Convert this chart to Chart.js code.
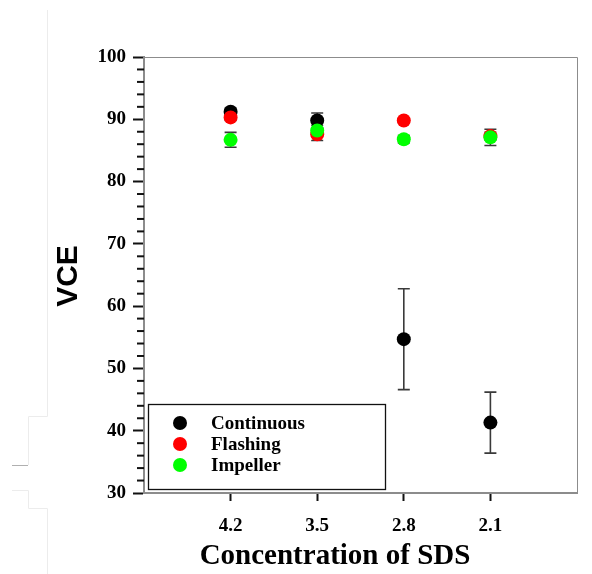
<!DOCTYPE html>
<html>
<head>
<meta charset="utf-8">
<script src="https://cdn.jsdelivr.net/npm/chart.js@4.4.1/dist/chart.umd.min.js"></script>
<style>
html,body{margin:0;padding:0;background:#fff;}
#wrap{width:592px;height:574px;position:relative;}
</style>
</head>
<body>
<div id="wrap"><canvas id="c" width="592" height="574"></canvas></div>
<script>
// ---- data ----
const categories = ['4.2', '3.5', '2.8', '2.1'];
const seriesNames = ['Continuous', 'Flashing', 'Impeller'];
const continuous = [91.2, 89.8, 54.7, 41.3];
const continuousErr = [0.6, 1.2, 8.1, 4.9];
const flashing = [90.3, 87.6, 89.8, 87.3];
const flashingErr = [0.5, 1.0, 0.3, 0.6];
const impeller = [86.7, 88.2, 86.8, 87.1];
const impellerErr = [1.2, 0.8, 0.6, 1.3];
const yTickLabels = [30, 40, 50, 60, 70, 80, 90, 100];

const colors = ['#000000', '#ff0000', '#00ff00'];
const SERIF = '"Liberation Serif", "Times New Roman", serif';
const SANS = '"Liberation Sans", Arial, sans-serif';

function pts(vals, errs) {
  return vals.map((v, i) => ({x: i + 1, y: v, err: errs[i]}));
}
const allVals = [continuous, flashing, impeller];
const allErrs = [continuousErr, flashingErr, impellerErr];

const datasets = seriesNames.map((name, k) => ({
  label: name,
  data: pts(allVals[k], allErrs[k]),
  backgroundColor: colors[k],
  borderColor: colors[k],
  pointRadius: 7,
  pointBorderWidth: 0,
  showLine: false,
  order: 3 - k
}));

const errorBars = {
  id: 'errorBars',
  beforeDatasetsDraw(chart) {
    const ctx = chart.ctx, ys = chart.scales.y, xs = chart.scales.x;
    ctx.save();
    ctx.strokeStyle = '#3a3a3a';
    ctx.lineWidth = 1.6;
    chart.data.datasets.forEach(ds => {
      ds.data.forEach(p => {
        const x = xs.getPixelForValue(p.x);
        const y1 = ys.getPixelForValue(p.y + p.err);
        const y2 = ys.getPixelForValue(p.y - p.err);
        ctx.beginPath();
        ctx.moveTo(x, y1); ctx.lineTo(x, y2);
        ctx.moveTo(x - 6, y1); ctx.lineTo(x + 6, y1);
        ctx.moveTo(x - 6, y2); ctx.lineTo(x + 6, y2);
        ctx.stroke();
      });
    });
    ctx.restore();
  }
};

const decor = {
  id: 'decor',
  afterDraw(chart) {
    const ctx = chart.ctx, a = chart.chartArea, ys = chart.scales.y;
    ctx.save();
    // frame top and right
    ctx.strokeStyle = '#8c8c8c';
    ctx.lineWidth = 1;
    ctx.beginPath();
    ctx.moveTo(a.left, a.top + 0.5); ctx.lineTo(a.right + 0.5, a.top + 0.5);
    ctx.lineTo(a.right + 0.5, a.bottom);
    ctx.stroke();
    // minor y ticks
    ctx.strokeStyle = '#111';
    ctx.lineWidth = 2;
    ys.ticks.forEach(t => {
      if (t.value % 10 !== 0) {
        const y = ys.getPixelForValue(t.value);
        ctx.beginPath();
        ctx.moveTo(a.left - 7, y); ctx.lineTo(a.left, y);
        ctx.stroke();
      }
    });
    // legend box
    const lx = a.left + 4, ly = 404, lw = 237, lh = 85;
    ctx.strokeStyle = '#111';
    ctx.lineWidth = 1.3;
    ctx.strokeRect(lx + 0.5, ly + 0.5, lw, lh);
    ctx.font = 'bold 19px ' + SERIF;
    ctx.textBaseline = 'middle';
    ctx.textAlign = 'left';
    chart.data.datasets.forEach((ds, i) => {
      const cy = ly + 19 + i * 21;
      ctx.fillStyle = ds.backgroundColor;
      ctx.beginPath();
      ctx.arc(lx + 32, cy, 7, 0, Math.PI * 2);
      ctx.fill();
      ctx.fillStyle = '#000';
      ctx.fillText(ds.label, lx + 63, cy + 1);
    });
    // axis titles
    ctx.fillStyle = '#000';
    ctx.font = 'bold 29px ' + SERIF;
    ctx.textAlign = 'center';
    ctx.textBaseline = 'middle';
    ctx.fillText('Concentration of SDS', 335, 557);
    ctx.save();
    ctx.translate(69, 276);
    ctx.rotate(-Math.PI / 2);
    ctx.font = 'bold 30px ' + SANS;
    ctx.fillText('VCE', 0, 0);
    ctx.restore();
    // faint artifacts on the left edge
    ctx.lineWidth = 1;
    ctx.strokeStyle = '#ececec';
    ctx.beginPath();
    ctx.moveTo(47.5, 10); ctx.lineTo(47.5, 416.5); ctx.lineTo(28.5, 416.5); ctx.lineTo(28.5, 465);
    ctx.moveTo(12, 490.5); ctx.lineTo(28.5, 490.5); ctx.lineTo(28.5, 508.5); ctx.lineTo(47.5, 508.5); ctx.lineTo(47.5, 574);
    ctx.stroke();
    ctx.strokeStyle = '#b0b0b0';
    ctx.beginPath();
    ctx.moveTo(12, 465.5); ctx.lineTo(28, 465.5);
    ctx.stroke();
    ctx.restore();
  }
};

new Chart(document.getElementById('c'), {
  type: 'scatter',
  data: {datasets},
  options: {
    responsive: false,
    animation: false,
    devicePixelRatio: 1,
    layout: {padding: {left: 0, right: 15, top: 57, bottom: 0}},
    plugins: {legend: {display: false}, tooltip: {enabled: false}},
    scales: {
      x: {
        type: 'linear',
        min: 0, max: categories.length + 1,
        afterFit(s) { s.height = 81; },
        afterBuildTicks(s) {
          s.ticks = categories.map((c, i) => ({value: i + 1}));
        },
        border: {color: '#8c8c8c', width: 2},
        grid: {drawOnChartArea: false, drawTicks: true, tickLength: 8, tickWidth: 2, tickColor: '#111'},
        ticks: {
          padding: 14,
          color: '#000',
          font: {family: SERIF, size: 19, weight: 'bold'},
          callback: v => categories[v - 1] || ''
        }
      },
      y: {
        min: 30, max: 100,
        afterFit(s) { s.width = 144; },
        afterBuildTicks(s) {
          const t = [];
          for (let v = 30; v <= 100; v += 2) t.push({value: v});
          s.ticks = t;
        },
        border: {color: '#8c8c8c', width: 2},
        grid: {
          drawOnChartArea: false, drawTicks: true, tickLength: 11, tickWidth: 2,
          tickColor: ctx => (ctx.tick && ctx.tick.value % 10 === 0) ? '#111' : 'rgba(0,0,0,0)'
        },
        ticks: {
          padding: 7,
          color: '#000',
          autoSkip: false,
          font: {family: SERIF, size: 19, weight: 'bold'},
          callback: v => yTickLabels.includes(v) ? String(v) : ''
        }
      }
    }
  },
  plugins: [errorBars, decor]
});
</script>
</body>
</html>
